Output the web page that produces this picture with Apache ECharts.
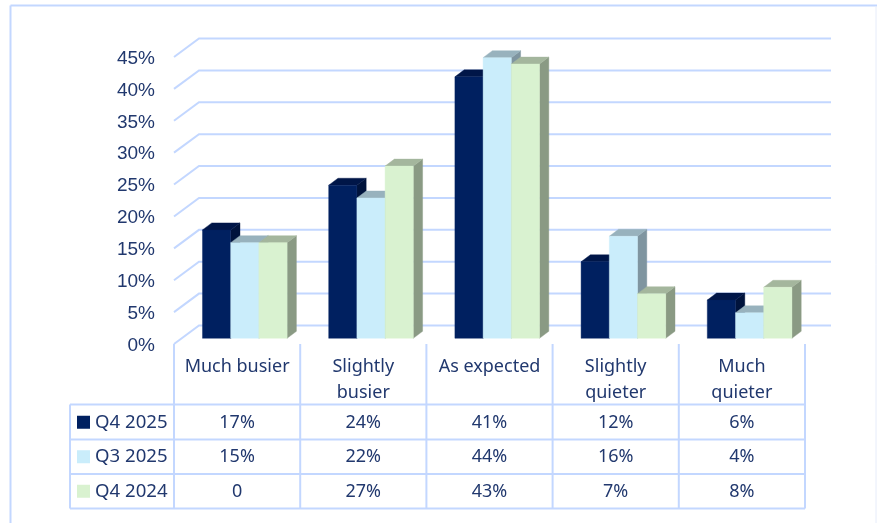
<!DOCTYPE html>
<html><head><meta charset="utf-8">
<style>html,body{margin:0;padding:0;background:#fff}#c{width:877px;height:523px}</style>
<script src="https://cdn.jsdelivr.net/npm/echarts@6/dist/echarts.min.js"></script>
</head><body><div id="c"></div>
<script>
const categories = ['Much busier','Slightly\nbusier','As expected','Slightly\nquieter','Much\nquieter'];
const seriesNames = ['Q4 2025','Q3 2025','Q4 2024'];
const q42025 = [17,24,41,12,6];
const q32025 = [15,22,44,16,4];
const q42024 = [15,27,43,7,8];
const tableQ42025 = ['17%','24%','41%','12%','6%'];
const tableQ32025 = ['15%','22%','44%','16%','4%'];
const tableQ42024 = ['0','27%','43%','7%','8%'];
const yTicks = [0,5,10,15,20,25,30,35,40,45];
const palette = [
  {front:'#002060',top:'#001648',side:'#00133c'},
  {front:'#CAEDFB',top:'#98B2BD',side:'#7F95A0'},
  {front:'#D9F2D0',top:'#A4B69D',side:'#8A9A84'}
];
const LINE='#C3D7FF', TXT='#21386E';
const FONT='"Noto Sans"';
const chart = echarts.init(document.getElementById('c'),null,{renderer:'canvas'});
const W=877,H=523, L=174,R=805,T=57,B=344;
const rows=[404.5,439.5,474,508.5], tableLeft=70;
const wallDX=25, wallDY=18.5, barDX=9.3, barDY=7, planeDX=7.7, planeDY=5.7, barRatio=0.2235, wallRight=831;

function barSeries(idx,values){
  return {type:'custom',name:seriesNames[idx],z:3,coordinateSystem:'cartesian2d',
    itemStyle:{color:palette[idx].front},
    data:values.map((v,i)=>[i,v]),
    renderItem(params,api){
      const c=palette[idx];
      const p=api.coord([api.value(0),api.value(1)]);
      const base=api.coord([api.value(0),0]);
      const w=api.size([1,0])[0]*barRatio;
      const x0=p[0]+planeDX+(idx-1.5)*w, x1=x0+w, yt=p[1]-planeDY, yb=base[1]-planeDY;
      const poly=(pts,fill)=>({type:'polygon',shape:{points:pts},style:{fill,stroke:fill,lineWidth:0.4}});
      return {type:'group',children:[
        poly([[x1,yt],[x1+barDX,yt-barDY],[x1+barDX,yb-barDY],[x1,yb]],c.side),
        poly([[x0,yt],[x0+barDX,yt-barDY],[x1+barDX,yt-barDY],[x1,yt]],c.top),
        poly([[x0,yt],[x1,yt],[x1,yb],[x0,yb]],c.front)
      ]};
    }};
}
const wallSeries={type:'custom',z:1,silent:true,data:yTicks.map(v=>[0,v]),
  renderItem(params,api){
    const p=api.coord([0,api.value(1)]);
    const x0=L,y0=p[1];
    return {type:'polyline',shape:{points:[[x0,y0],[x0+wallDX,y0-wallDY],[wallRight,y0-wallDY]]},
      style:{fill:null,stroke:LINE,lineWidth:2}};
  }};
const tableRowsData=[tableQ42025,tableQ32025,tableQ42024];
const cellData=[];
tableRowsData.forEach((r,ri)=>r.forEach((t,ci)=>cellData.push([ci,ri,t])));
const cellSeries={type:'custom',z:4,silent:true,data:cellData,
  encode:{x:0},
  renderItem(params,api){
    const ri=api.value(1);
    const x=api.coord([api.value(0),0])[0];
    return {type:'text',x:x,y:(rows[ri]+rows[ri+1])/2+0.5,
      style:{text:tableRowsData[ri][api.value(0)],fill:TXT,font:'18px '+FONT,align:'center',verticalAlign:'middle'}};
  }};
const lines=[];
const ln=(x1,y1,x2,y2,w,c)=>lines.push({type:'line',silent:true,z:2,shape:{x1,y1,x2,y2},style:{stroke:c||LINE,lineWidth:w||1.6}});
rows.forEach(y=>ln(tableLeft,y,R,y,2));
ln(tableLeft,rows[0],tableLeft,rows[3],2);
for(let i=0;i<=5;i++){const x=L+(R-L)*i/5; ln(x,B,x,rows[3],2);}
ln(10.5,5.5,877,5.5,2);
ln(10.5,5.5,10.5,523,2);
ln(876,6,876,523,1,'#E6ECFA');
chart.setOption({
  animation:false,backgroundColor:'#fff',
  grid:{left:L,right:W-R,top:T,bottom:H-B,containLabel:false},
  xAxis:{type:'category',data:categories,axisLine:{show:false},axisTick:{show:false},splitLine:{show:false},
    axisLabel:{color:TXT,fontFamily:FONT,fontSize:18,lineHeight:26,margin:10,verticalAlign:'top',interval:0}},
  yAxis:{type:'value',min:0,max:45,interval:5,axisLine:{show:false},axisTick:{show:false},splitLine:{show:false},
    axisLabel:{color:TXT,fontFamily:'"Liberation Sans"',fontSize:19,margin:19,verticalAlign:'top',lineHeight:3,formatter:'{value}%'}},
  legend:{show:true,orient:'vertical',left:77,top:411,itemWidth:13,itemHeight:13,itemGap:12,icon:'rect',selectedMode:false,
    data:seriesNames,textStyle:{color:TXT,fontFamily:FONT,fontSize:18.6,padding:[0,0,0,0],lineHeight:22.5},padding:0},
  graphic:[...lines],
  series:[wallSeries,barSeries(0,q42025),barSeries(1,q32025),barSeries(2,q42024),cellSeries]
});
</script></body></html>
